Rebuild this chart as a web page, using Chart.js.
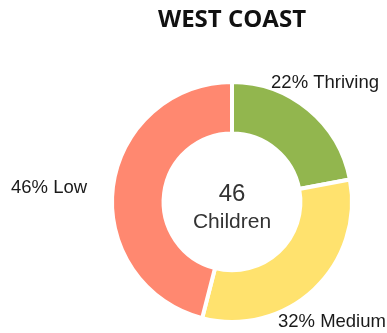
<!DOCTYPE html>
<html>
<head>
<meta charset="utf-8">
<script src="https://cdn.jsdelivr.net/npm/chart.js@4/dist/chart.umd.min.js"></script>
<style>
  body { margin: 0; background: #fff; }
</style>
</head>
<body>
<canvas id="grafico" width="387" height="333"></canvas>
<script>
const categorias = ['Thriving', 'Medium', 'Low'];
const porcentajes = [22, 32, 46];
const colores = ['#92b64e', '#ffe26e', '#ff8870'];
const totalNinos = 46;
const textoCentro = 'Children';

// etiquetas afuera de cada arco: "22% Thriving"
const etiquetasExternas = {
  id: 'etiquetasExternas',
  afterDraw(chart) {
    const ctx = chart.ctx;
    const arcos = chart.getDatasetMeta(0).data;
    ctx.save();
    ctx.font = '18.5px "Liberation Sans", Arial, sans-serif';
    ctx.fillStyle = '#1a1a1a';
    ctx.textAlign = 'center';
    ctx.textBaseline = 'middle';
    arcos.forEach((arco, i) => {
      const medio = (arco.startAngle + arco.endAngle) / 2;
      const cos = Math.cos(medio), sen = Math.sin(medio);
      const r = arco.outerRadius - 2 + 28;
      let x = arco.x + cos * r;
      let y = arco.y + sen * r + 4;
      const texto = porcentajes[i] + '% ' + categorias[i];
      const ancho = ctx.measureText(texto).width;
      if (Math.abs(cos) > Math.abs(sen)) {
        x += Math.sign(cos) * ancho / 2;
      } else {
        y += Math.sign(sen) * 10;
      }
      ctx.fillText(texto, x, y);
    });
    ctx.restore();
  }
};

// total en el hueco del centro
const textoCentral = {
  id: 'textoCentral',
  afterDraw(chart) {
    const ctx = chart.ctx;
    const arco = chart.getDatasetMeta(0).data[0];
    ctx.save();
    ctx.fillStyle = '#333';
    ctx.textAlign = 'center';
    ctx.textBaseline = 'middle';
    ctx.font = '24px "Liberation Sans", Arial, sans-serif';
    ctx.fillText(String(totalNinos), arco.x, arco.y - 8);
    ctx.font = '21px "Liberation Sans", Arial, sans-serif';
    ctx.fillText(textoCentro, arco.x, arco.y + 20);
    ctx.restore();
  }
};

const ctx = document.getElementById('grafico').getContext('2d');
new Chart(ctx, {
  type: 'doughnut',
  data: {
    labels: categorias,
    datasets: [{
      data: porcentajes,
      backgroundColor: colores,
      borderColor: '#ffffff',
      borderWidth: 4,
      hoverOffset: 0
    }]
  },
  options: {
    responsive: false,
    animation: false,
    cutout: '57%',
    layout: {
      padding: { top: 6, left: 110, right: 33, bottom: 9 }
    },
    plugins: {
      legend: { display: false },
      tooltip: { enabled: false },
      title: {
        display: true,
        text: 'WEST COAST',
        color: '#111',
        font: { family: '"Open Sans", sans-serif', size: 24, weight: 'bold' },
        padding: { top: 0, bottom: 45 }
      }
    }
  },
  plugins: [etiquetasExternas, textoCentral]
});
</script>
</body>
</html>
